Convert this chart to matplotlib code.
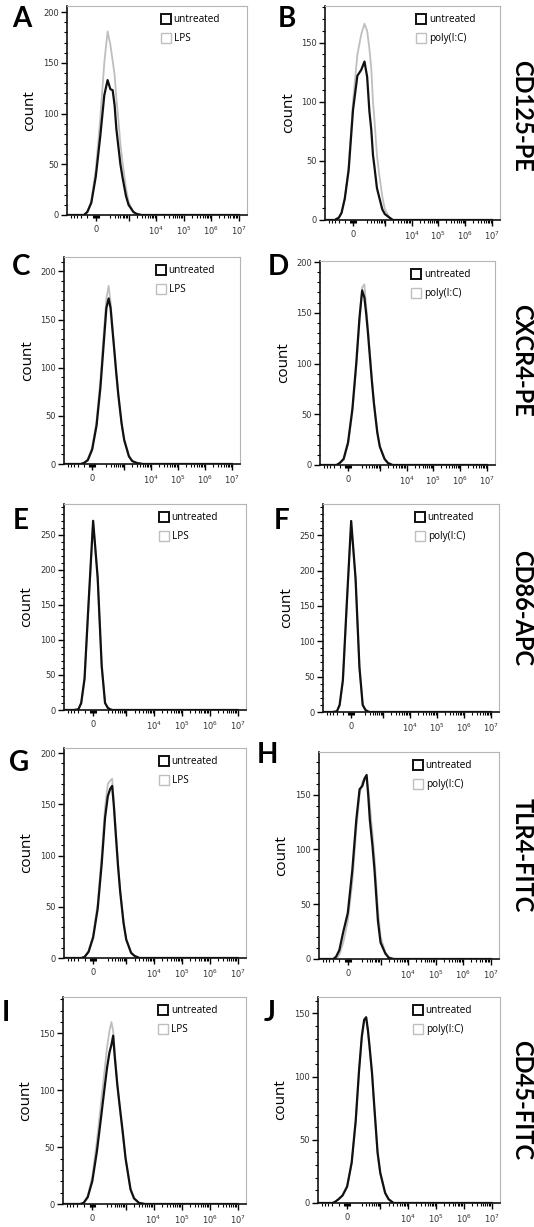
import numpy as np
import matplotlib
matplotlib.use("Agg")
import matplotlib.pyplot as plt
from matplotlib.lines import Line2D

# fluorescence grid shared by every histogram (x values)
fluor = [-700, -300, -200, -150, -100, -50, 0, 50, 100, 150, 200, 250, 300, 350,
         400, 500, 600, 800, 1000, 1500, 2000, 3000, 5000, 1e7]

# counts (untreated = black, treated = grey)
a_untreated = [0, 0, 0, 0, 3, 12, 38, 78, 118, 133, 124, 123, 108, 85, 72, 50, 37, 19, 10, 3, 1, 0, 0, 0]
a_lps = [0, 0, 0, 0, 3, 14, 45, 95, 150, 181, 168, 152, 138, 115, 100, 70, 52, 27, 13, 3, 1, 0, 0, 0]
b_untreated = [0, 0, 2, 6, 18, 42, 93, 122, 127, 134, 121, 92, 76, 55, 45, 27, 20, 9, 5, 2, 0, 0, 0, 0]
b_polyic = [0, 0, 2, 6, 18, 45, 100, 140, 157, 166, 160, 145, 128, 100, 85, 55, 40, 20, 9, 2, 0, 0, 0, 0]
c_untreated = [0, 0, 0, 0, 1, 4, 15, 40, 80, 125, 162, 172, 162, 142, 125, 95, 72, 42, 25, 8, 3, 1, 0, 0]
c_lps = [0, 0, 0, 0, 1, 5, 17, 45, 88, 135, 172, 185, 168, 146, 126, 95, 72, 42, 25, 8, 3, 1, 0, 0]
d_untreated = [0, 0, 0, 0, 2, 6, 22, 55, 100, 145, 172, 165, 148, 130, 112, 82, 60, 32, 18, 6, 2, 0, 0, 0]
d_polyic = [0, 0, 0, 0, 2, 5, 20, 52, 96, 140, 175, 178, 155, 135, 116, 85, 62, 33, 18, 6, 2, 0, 0, 0]
e_untreated = [0, 0, 1, 10, 45, 153, 270, 189, 63, 10, 3, 1, 0, 0, 0, 0, 0, 0, 0, 0, 0, 0, 0, 0]
e_lps = [0, 0, 1, 9, 43, 150, 268, 187, 62, 10, 3, 1, 0, 0, 0, 0, 0, 0, 0, 0, 0, 0, 0, 0]
f_untreated = [0, 0, 1, 10, 45, 153, 270, 189, 63, 10, 3, 1, 0, 0, 0, 0, 0, 0, 0, 0, 0, 0, 0, 0]
f_polyic = [0, 0, 1, 9, 43, 150, 268, 187, 62, 10, 3, 1, 0, 0, 0, 0, 0, 0, 0, 0, 0, 0, 0, 0]
g_untreated = [0, 0, 0, 0, 1, 6, 20, 48, 92, 137, 158, 165, 168, 148, 126, 90, 65, 34, 18, 5, 2, 0, 0, 0]
g_lps = [0, 0, 0, 0, 1, 7, 22, 53, 100, 147, 170, 173, 175, 152, 130, 92, 66, 35, 18, 5, 2, 0, 0, 0]
h_untreated = [0, 0, 0, 2, 8, 25, 42, 81, 127, 155, 158, 165, 168, 148, 127, 104, 81, 35, 15, 5, 1, 0, 0, 0]
h_polyic = [0, 0, 0, 0, 4, 15, 35, 70, 118, 150, 162, 165, 163, 155, 140, 115, 92, 45, 20, 6, 2, 0, 0, 0]
i_untreated = [0, 0, 0, 0, 1, 6, 20, 46, 75, 100, 120, 133, 140, 148, 130, 105, 88, 62, 40, 13, 5, 1, 0, 0]
i_lps = [0, 0, 0, 0, 1, 7, 24, 55, 88, 115, 138, 152, 160, 152, 135, 105, 87, 60, 40, 13, 5, 1, 0, 0]
j_untreated = [0, 0, 0, 1, 3, 6, 13, 32, 65, 105, 132, 145, 147, 137, 125, 103, 78, 40, 24, 8, 3, 0, 0, 0]
j_polyic = [0, 0, 0, 1, 3, 6, 13, 31, 64, 104, 131, 144, 146, 136, 124, 102, 77, 39, 23, 8, 3, 0, 0, 0]

markers = ["CD125-PE", "CXCR4-PE", "CD86-APC", "TLR4-FITC", "CD45-FITC"]
x_tick_values = [0, 1e3, 1e4, 1e5, 1e6, 1e7]
x_tick_labels = ["0", "", r"$10^4$", r"$10^5$", r"$10^6$", r"$10^7$"]

W, H = 534, 1227
fig = plt.figure(figsize=(W / 100, H / 100), dpi=100)

C = 130.0


def fwd(x):
    return np.arcsinh(np.asarray(x, dtype=float) / C)


def inv(y):
    return C * np.sinh(np.asarray(y, dtype=float))


minor_x = [-500, -400, -300, -200, -100, -30, -20, -10, 10, 20, 30]
for dec in [100, 1e3, 1e4, 1e5, 1e6]:
    minor_x += [k * dec for k in range(2, 10)]

# letter, axes box (left, top, right, bottom in px), letter pos, ymax, untreated, treated, treated name
panels = [
    ("A", (67, 6, 247, 215), (12, 6), 206, a_untreated, a_lps, "LPS"),
    ("B", (325, 6, 500, 220), (278, 6), 181, b_untreated, b_polyic, "poly(I:C)"),
    ("C", (64, 257, 240, 464), (12, 254), 215, c_untreated, c_lps, "LPS"),
    ("D", (320, 261, 495, 465), (268, 254), 201, d_untreated, d_polyic, "poly(I:C)"),
    ("E", (64, 504, 246, 710), (13, 508), 294, e_untreated, e_lps, "LPS"),
    ("F", (323, 504, 499, 712), (274, 508), 294, f_untreated, f_polyic, "poly(I:C)"),
    ("G", (64, 748, 246, 958), (9, 750), 205, g_untreated, g_lps, "LPS"),
    ("H", (319, 752, 499, 959), (257, 742), 189, h_untreated, h_polyic, "poly(I:C)"),
    ("I", (63, 997, 246, 1204), (2, 1000), 182, i_untreated, i_lps, "LPS"),
    ("J", (318, 997, 500, 1203), (264, 1000), 163, j_untreated, j_polyic, "poly(I:C)"),
]

for n, (letter, (l, t, r, b), (lx, ly), ymax, untr, treat, tname) in enumerate(panels):
    ax = fig.add_axes([l / W, 1 - b / H, (r - l) / W, (b - t) / H])
    ax.plot(fluor, treat, color="#bfbfbf", lw=1.3)
    ax.plot(fluor, untr, color="#111111", lw=1.6)
    ax.set_xscale("function", functions=(fwd, inv))
    ax.set_xlim(-716, 2e7)
    ax.set_ylim(0, ymax)

    ax.set_xticks(x_tick_values, x_tick_labels)
    ax.set_xticks(minor_x, minor=True)
    ax.set_yticks(np.arange(0, ymax, 50))
    ax.set_yticks(np.arange(0, ymax, 10), minor=True)
    ax.tick_params(which="major", length=4, width=1, labelsize=6, labelcolor="#333333")
    ax.tick_params(which="minor", length=2, width=0.8)
    ax.tick_params(axis="x", which="major", pad=3)
    ax.tick_params(axis="y", which="major", pad=2)

    for s in ["left", "bottom"]:
        ax.spines[s].set_color("#111111")
        ax.spines[s].set_linewidth(1.2)
    for s in ["top", "right"]:
        ax.spines[s].set_color("#b5b5b5")
        ax.spines[s].set_linewidth(0.8)

    ax.set_ylabel("count", fontsize=11, family="Open Sans")
    ax.yaxis.set_label_coords(-0.165, 0.5)

    handles = [
        Line2D([], [], marker="s", ls="none", mfc="white", mec="#111111", mew=1.4, ms=7),
        Line2D([], [], marker="s", ls="none", mfc="white", mec="#bfbfbf", mew=1.0, ms=7),
    ]
    ax.legend(handles, ["untreated", tname], loc="upper left", bbox_to_anchor=(0.49, 0.99),
              frameon=False, prop={"family": "Open Sans", "size": 7.2},
              handlelength=0.9, handletextpad=0.35, labelspacing=0.8, borderaxespad=0.2)

    fig.text(lx / W, 1 - ly / H, letter, fontsize=20,
             fontweight="bold", family="Lato", ha="left", va="top")

for row, name in enumerate(markers):
    yc = [116, 360, 608, 855, 1100][row]
    fig.text(522 / W, 1 - yc / H, name, rotation=-90, fontsize=17, fontweight="bold",
             family="Lato", ha="center", va="center")

fig.savefig("out.png", dpi=100)
